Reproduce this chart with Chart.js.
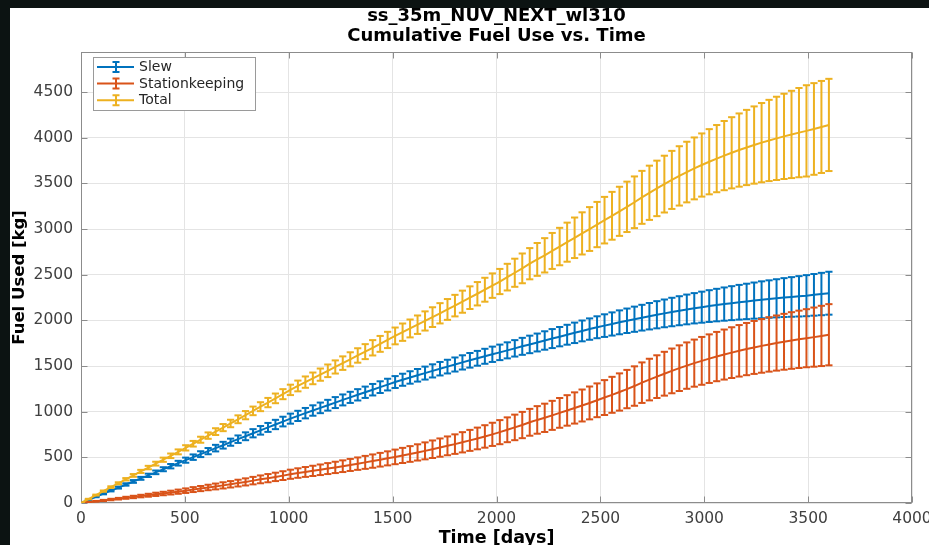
<!DOCTYPE html>
<html>
<head>
<meta charset="utf-8">
<script src="https://cdn.jsdelivr.net/npm/chart.js@4.4.0/dist/chart.umd.min.js"></script>
<style>
  html, body { margin: 0; padding: 0; background: #0c1312; }
  canvas { display: block; position: absolute; left: 0; top: 0; }
</style>
</head>
<body>
<canvas id="c" width="929" height="545"></canvas>
<script>
// Mission time samples [days]
const days = [
  0, 36, 72, 108, 144, 180, 216, 252, 288, 324, 360, 396, 432, 468, 504, 540, 576, 612, 648, 684,
  720, 756, 792, 828, 864, 900, 936, 972, 1008, 1044, 1080, 1116, 1152, 1188, 1224, 1260, 1296, 1332, 1368, 1404,
  1440, 1476, 1512, 1548, 1584, 1620, 1656, 1692, 1728, 1764, 1800, 1836, 1872, 1908, 1944, 1980, 2016, 2052, 2088, 2124,
  2160, 2196, 2232, 2268, 2304, 2340, 2376, 2412, 2448, 2484, 2520, 2556, 2592, 2628, 2664, 2700, 2736, 2772, 2808, 2844,
  2880, 2916, 2952, 2988, 3024, 3060, 3096, 3132, 3168, 3204, 3240, 3276, 3312, 3348, 3384, 3420, 3456, 3492, 3528, 3564,
  3600
];

// Slew fuel: mean and 1-sigma [kg]
const slewMean = [
  0, 34, 68, 102, 136, 169, 203, 236, 270, 303, 336, 370, 403, 436, 469, 502, 535, 568, 601, 633,
  666, 699, 731, 764, 796, 828, 860, 892, 924, 954, 984, 1013, 1042, 1071, 1100, 1129, 1157, 1185, 1213, 1241,
  1269, 1297, 1325, 1350, 1375, 1399, 1423, 1447, 1471, 1494, 1517, 1540, 1563, 1585, 1607, 1629, 1650, 1672, 1694, 1716,
  1737, 1758, 1780, 1801, 1822, 1843, 1864, 1885, 1905, 1925, 1943, 1961, 1979, 1996, 2013, 2030, 2046, 2062, 2077, 2092,
  2106, 2120, 2133, 2145, 2157, 2168, 2179, 2189, 2199, 2208, 2217, 2226, 2234, 2242, 2250, 2257, 2264, 2271, 2280, 2289,
  2298
];
const slewErr = [
  0, 3, 5, 7, 9, 11, 13, 15, 16, 18, 20, 22, 24, 26, 28, 30, 32, 34, 36, 37,
  39, 41, 43, 45, 47, 49, 51, 53, 55, 56, 57, 57, 58, 59, 60, 60, 61, 62, 62, 63,
  64, 64, 65, 66, 68, 69, 71, 72, 74, 75, 77, 78, 80, 81, 82, 84, 85, 88, 90, 93,
  96, 98, 101, 104, 106, 109, 112, 114, 117, 120, 124, 127, 131, 134, 138, 141, 145, 149, 152, 156,
  159, 163, 166, 170, 174, 178, 182, 186, 190, 194, 198, 202, 205, 209, 213, 217, 221, 225, 228, 232,
  235
];

// Stationkeeping fuel: mean and 1-sigma [kg]
const skMean = [
  0, 9, 19, 28, 38, 47, 57, 66, 76, 85, 95, 104, 114, 124, 135, 147, 158, 170, 181, 193,
  205, 218, 231, 245, 259, 272, 286, 300, 315, 328, 340, 352, 364, 377, 390, 403, 417, 431, 445, 459,
  474, 489, 505, 521, 537, 554, 571, 589, 607, 626, 645, 665, 686, 707, 729, 752, 776, 802, 828, 854,
  884, 910, 933, 960, 987, 1014, 1041, 1068, 1096, 1125, 1155, 1185, 1216, 1248, 1281, 1318, 1352, 1384, 1416, 1447,
  1477, 1505, 1532, 1557, 1581, 1604, 1626, 1647, 1667, 1686, 1704, 1721, 1737, 1752, 1766, 1780, 1793, 1805, 1817, 1830,
  1843
];
const skErr = [
  0, 2, 4, 6, 8, 9, 11, 13, 14, 16, 18, 19, 21, 23, 25, 27, 28, 30, 32, 34,
  35, 37, 39, 41, 43, 45, 46, 48, 50, 52, 54, 56, 58, 60, 62, 64, 66, 68, 71, 73,
  75, 77, 80, 83, 86, 89, 93, 96, 100, 103, 107, 111, 115, 119, 123, 127, 132, 136, 140, 144,
  147, 151, 155, 159, 163, 167, 171, 175, 180, 185, 191, 197, 204, 210, 216, 222, 228, 234, 240, 245,
  250, 254, 258, 262, 266, 270, 274, 278, 282, 286, 290, 294, 298, 302, 306, 310, 314, 318, 324, 330,
  335
];

// Total fuel: mean and 1-sigma [kg]
const totalMean = [
  0, 43, 87, 130, 174, 216, 260, 302, 346, 388, 431, 474, 517, 560, 604, 649, 693, 738, 782, 826,
  871, 917, 962, 1009, 1055, 1100, 1146, 1192, 1239, 1282, 1324, 1365, 1406, 1448, 1490, 1532, 1574, 1616, 1658, 1700,
  1743, 1786, 1830, 1871, 1912, 1953, 1994, 2036, 2078, 2120, 2162, 2205, 2249, 2292, 2336, 2381, 2426, 2474, 2522, 2570,
  2621, 2668, 2713, 2761, 2809, 2857, 2905, 2953, 3001, 3050, 3098, 3146, 3195, 3244, 3294, 3348, 3398, 3446, 3493, 3539,
  3583, 3625, 3665, 3702, 3738, 3772, 3805, 3836, 3866, 3894, 3921, 3947, 3971, 3994, 4016, 4037, 4057, 4076, 4097, 4119,
  4141
];
const totalErr = [
  0, 3, 5, 7, 9, 11, 13, 15, 17, 19, 21, 23, 25, 27, 29, 31, 33, 35, 37, 39,
  41, 43, 45, 47, 49, 51, 53, 55, 57, 59, 62, 64, 67, 69, 72, 74, 77, 79, 82, 84,
  87, 89, 92, 95, 98, 101, 105, 108, 111, 114, 118, 121, 124, 128, 131, 134, 138, 146, 154, 163,
  171, 180, 188, 197, 205, 214, 222, 231, 240, 248, 255, 262, 269, 276, 283, 290, 297, 304, 311, 318,
  325, 332, 339, 346, 357, 368, 379, 390, 401, 412, 423, 434, 445, 456, 467, 478, 489, 500, 502, 504,
  505
];

const xTicks = [0, 500, 1000, 1500, 2000, 2500, 3000, 3500, 4000];
const yTicks = [0, 500, 1000, 1500, 2000, 2500, 3000, 3500, 4000, 4500];
const seriesNames = ['Slew', 'Stationkeeping', 'Total'];
const seriesColors = ['#0072BD', '#D95319', '#EDB120'];
const titleLines = ['ss_35m_NUV_NEXT_wl310', 'Cumulative Fuel Use vs. Time'];

// Vertical error bar segments: low point, high point, then a gap
function errorBarPoints(mean, err) {
  const pts = [];
  days.forEach((d, i) => {
    pts.push({ x: d, y: mean[i] - err[i] }, { x: d, y: mean[i] + err[i] }, { x: d, y: null });
  });
  return pts;
}

function seriesDatasets(k, mean, err, baseOrder) {
  const color = seriesColors[k];
  return [
    {
      label: seriesNames[k] + ' error',
      data: errorBarPoints(mean, err),
      borderColor: color,
      borderWidth: 2,
      spanGaps: false,
      pointStyle: 'line',
      pointRadius: 3.6,
      pointBorderWidth: 2,
      pointBorderColor: color,
      pointBackgroundColor: color,
      order: baseOrder + 1
    },
    {
      label: seriesNames[k],
      data: days.map((d, i) => ({ x: d, y: mean[i] })),
      borderColor: color,
      borderWidth: 2,
      pointRadius: 0,
      tension: 0,
      order: baseOrder
    }
  ];
}

const datasets = [
  ...seriesDatasets(0, slewMean, slewErr, 5),
  ...seriesDatasets(1, skMean, skErr, 3),
  ...seriesDatasets(2, totalMean, totalErr, 1)
];

// Dark surround with the white figure panel
const backdrop = {
  id: 'backdrop',
  beforeDraw(chart) {
    const ctx = chart.ctx;
    ctx.save();
    ctx.fillStyle = '#0c1312';
    ctx.fillRect(0, 0, chart.width, chart.height);
    ctx.fillStyle = '#ffffff';
    ctx.fillRect(10, 8, chart.width - 10, chart.height - 8);
    ctx.restore();
  }
};

// Axes box with inward tick marks on all four sides
const frame = {
  id: 'frame',
  beforeDatasetsDraw(chart) {
    const { ctx, chartArea: a, scales: { x, y } } = chart;
    const L = Math.round(a.left) + 0.5, R = Math.round(a.right) - 0.5;
    const T = Math.round(a.top) + 0.5, B = Math.round(a.bottom) - 0.5;
    ctx.save();
    ctx.strokeStyle = '#8c8c8c';
    ctx.lineWidth = 1;
    ctx.beginPath();
    xTicks.forEach(v => {
      const px = Math.round(x.getPixelForValue(v)) + 0.5;
      ctx.moveTo(px, B); ctx.lineTo(px, B - 6);
      ctx.moveTo(px, T); ctx.lineTo(px, T + 6);
    });
    yTicks.forEach(v => {
      const py = Math.round(y.getPixelForValue(v)) + 0.5;
      ctx.moveTo(L, py); ctx.lineTo(L + 6, py);
      ctx.moveTo(R, py); ctx.lineTo(R - 6, py);
    });
    ctx.stroke();
    ctx.strokeRect(L, T, R - L, B - T);
    ctx.restore();
  }
};

// Boxed legend in the upper-left corner of the axes
const legendBox = {
  id: 'legendBox',
  afterDraw(chart) {
    const ctx = chart.ctx;
    ctx.save();
    const bx = 93.5, by = 57.5, bw = 162, bh = 53;
    ctx.fillStyle = '#ffffff';
    ctx.fillRect(bx, by, bw, bh);
    ctx.strokeStyle = '#9a9a9a';
    ctx.lineWidth = 1;
    ctx.strokeRect(bx, by, bw, bh);
    ctx.font = '14px "DejaVu Sans"';
    ctx.textBaseline = 'middle';
    ctx.textAlign = 'left';
    seriesNames.forEach((name, k) => {
      const yy = 67 + k * 16.6;
      ctx.strokeStyle = seriesColors[k];
      ctx.lineWidth = 2;
      ctx.beginPath();
      ctx.moveTo(97, yy); ctx.lineTo(134, yy);
      ctx.moveTo(116, yy - 5); ctx.lineTo(116, yy + 5);
      ctx.moveTo(112.5, yy - 5); ctx.lineTo(119.5, yy - 5);
      ctx.moveTo(112.5, yy + 5); ctx.lineTo(119.5, yy + 5);
      ctx.stroke();
      ctx.fillStyle = '#262626';
      ctx.fillText(name, 139, yy + 0.5);
    });
    ctx.restore();
  }
};

const tickFont = { family: 'DejaVu Sans', size: 15.5 };

new Chart(document.getElementById('c'), {
  type: 'line',
  data: { datasets },
  options: {
    responsive: false,
    animation: false,
    devicePixelRatio: 1,
    events: [],
    layout: { padding: { left: 10, top: 0, right: 17, bottom: 0 }, autoPadding: false },
    plugins: {
      legend: { display: false },
      tooltip: { enabled: false },
      title: {
        display: true,
        fullSize: false,
        text: titleLines,
        color: '#000000',
        font: { family: 'DejaVu Sans', weight: 'bold', size: 18, lineHeight: 20 / 18 },
        padding: { top: 6, bottom: 6 }
      }
    },
    scales: {
      x: {
        type: 'linear',
        min: 0,
        max: 4000,
        afterBuildTicks: s => { s.ticks = xTicks.map(v => ({ value: v })); },
        afterFit: s => { s.height = 42; s.paddingLeft = 0; s.paddingRight = 0; },
        grid: { color: '#e4e4e4', drawTicks: false, lineWidth: 1 },
        border: { display: false },
        ticks: {
          padding: 7, color: '#404040', font: tickFont,
          maxRotation: 0, autoSkip: false, callback: v => String(v)
        },
        title: {
          display: true, text: 'Time [days]', color: '#000000',
          font: { family: 'DejaVu Sans', weight: 'bold', size: 17.5, lineHeight: 0.7 },
          padding: { top: 0, bottom: 0 }
        }
      },
      y: {
        type: 'linear',
        min: 0,
        max: 4940,
        afterBuildTicks: s => { s.ticks = yTicks.map(v => ({ value: v })); },
        afterFit: s => { s.width = 71; s.paddingTop = 0; s.paddingBottom = 0; },
        grid: { color: '#e4e4e4', drawTicks: false, lineWidth: 1 },
        border: { display: false },
        ticks: {
          padding: 8, color: '#404040', font: tickFont,
          autoSkip: false, callback: v => String(v)
        },
        title: {
          display: true, text: 'Fuel Used [kg]', color: '#000000',
          font: { family: 'DejaVu Sans', weight: 'bold', size: 16.5, lineHeight: 1.2 },
          padding: { top: 0, bottom: 0 }
        }
      }
    }
  },
  plugins: [backdrop, frame, legendBox]
});
</script>
</body>
</html>
